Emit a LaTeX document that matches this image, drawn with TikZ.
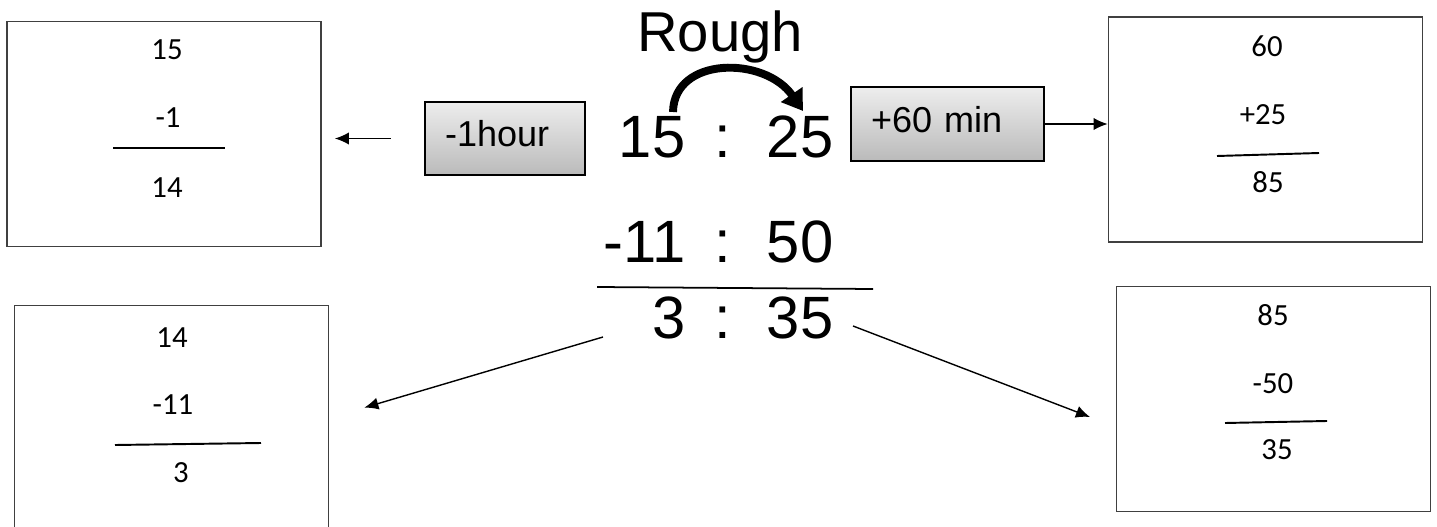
\documentclass[tikz,border=0pt]{standalone}
\usepackage{fontspec}
\setmainfont{Liberation Sans}
\newfontfamily\calibri{Carlito}
\usetikzlibrary{arrows}
\usetikzlibrary{arrows.meta}
\usetikzlibrary{calc}
\usetikzlibrary{positioning}

\newcommand{\hhmm}[2]{\makebox[1.7cm][r]{#1}\hspace{0.58cm}:\hspace{0.72cm}#2}

\tikzset{
  sumbox/.style={draw=black!75,line width=1pt,minimum width=6.28cm,minimum height=4.5cm,inner sep=0pt},
  sumnum/.style={font=\calibri\fontsize{17.5}{20}\selectfont,anchor=base,inner sep=0pt},
  sumline/.style={line width=1.1pt},
  opbox/.style={draw=black,line width=1.2pt,top color=black!7,bottom color=black!27,minimum height=1.47cm,inner xsep=0.4cm,align=left,text height=14.6pt,text depth=5pt,font=\fontsize{20.5}{24}\selectfont},
  bigtime/.style={font=\fontsize{34}{40}\selectfont,anchor=base west,inner sep=0pt},
  arr/.style={-{Latex[length=8pt,width=7pt]},line width=0.8pt}
}

\begin{document}
\begin{tikzpicture}[x=0.02cm,y=-0.02cm]
\useasboundingbox (0,0) rectangle (1437,527);

% Le calcul au brouillon
\node[font=\fontsize{32}{38}\selectfont,anchor=base,inner sep=0pt] (rough) at (720,52) {Rough};
\node[bigtime] (start) at (600,157) {\hhmm{15}{25}};
\node[bigtime] (dur) at (600,262) {\hhmm{-11}{50}};
\node[bigtime] (diff) at (600,338) {\hhmm{3}{35}};
\draw[line width=1pt] (597,287) -- (873,289);

% La retenue
\coordinate (hrs) at (673,112);
\coordinate (mins) at (803,111);
\draw[line width=4.5pt,-{Triangle[length=0.4cm,width=0.5cm]}] (hrs) .. controls (674,56) and (765,56) .. (mins);

% Les boites d'operation
\node[opbox,text width=2.4cm] (hour) at (505,138.5) {-1hour};
\node[opbox,text width=3.06cm] (min) at (947.5,124) {+60 min};

% Les boites de calcul
\node[sumbox] (boxA) at (164,134) {};
\node[sumbox] (boxB) at (1265.5,129.5) {};
\node[sumbox] (boxC) at (171.5,418) {};
\node[sumbox] (boxD) at (1273.5,399) {};

\node[sumnum] (a1) at (167,60) {15};
\node[sumnum] (a2) at (168,128) {-1};
\node[sumnum] (a3) at (167,197) {14};
\draw[sumline] (113,148) -- (225,148);

\node[sumnum] (b1) at (1267,57) {60};
\node[sumnum] (b2) at (1263,125) {+25};
\node[sumnum] (b3) at (1268,193) {85};
\draw[sumline] (1217,156) -- (1319,153);

\node[sumnum] (c1) at (172,347) {14};
\node[sumnum] (c2) at (173,414) {-11};
\node[sumnum] (c3) at (181,482) {3};
\draw[sumline] (115,445) -- (261,443);

\node[sumnum] (d1) at (1273,325) {85};
\node[sumnum] (d2) at (1273,393) {-50};
\node[sumnum] (d3) at (1277,459) {35};
\draw[sumline] (1225,423) -- (1327,421);

% Les fleches
\draw[arr,shorten <=0.66cm,shorten >=0.26cm] (hour.west) -- (boxA.east |- hour.west);
\draw[arr] (min.east) -- (boxB.west |- min.east);
\coordinate (dl) at (603,337);
\coordinate (dr) at (853,326);
\coordinate (tipD) at (1090,417);
\draw[arr,shorten >=0.73cm] (dl) -- (boxC.east);
\draw[arr] (dr) -- (tipD);
\end{tikzpicture}
\end{document}
